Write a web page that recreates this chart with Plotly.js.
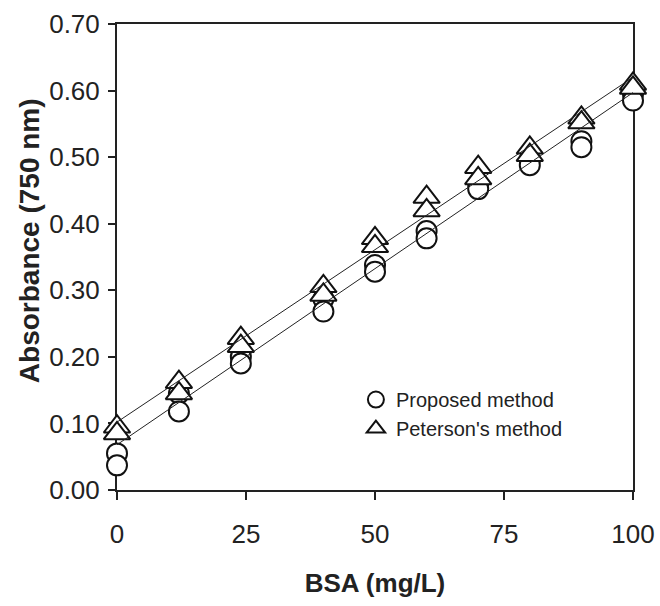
<!DOCTYPE html>
<html>
<head>
<meta charset="utf-8">
<script src="https://cdn.plot.ly/plotly-3.0.1.min.js"></script>
<style>html,body{margin:0;padding:0;background:#fff;}</style>
</head>
<body>
<div id="chart" style="width:660px;height:606px;"></div>
<script>
// BSA concentrations (mg/L)
var bsa = [0, 12, 24, 40, 50, 60, 70, 80, 90, 100];
// Proposed method, two replicates (absorbance at 750 nm)
var proposedRep1 = [0.055, 0.145, 0.200, 0.287, 0.338, 0.389, 0.460, 0.496, 0.524, 0.595];
var proposedRep2 = [0.037, 0.118, 0.190, 0.268, 0.328, 0.378, 0.452, 0.488, 0.515, 0.585];
// Peterson's method, two replicates
var petersonRep1 = [0.095, 0.162, 0.228, 0.306, 0.378, 0.440, 0.485, 0.514, 0.559, 0.610];
var petersonRep2 = [0.085, 0.145, 0.216, 0.293, 0.366, 0.420, 0.468, 0.503, 0.552, 0.604];
// Fitted calibration lines (end points)
var fitX = [0, 100];
var proposedFit = [0.068, 0.597];
var petersonFit = [0.102, 0.620];
var yTicks = [0, 0.1, 0.2, 0.3, 0.4, 0.5, 0.6, 0.7];
var xTicks = [0, 25, 50, 75, 100];

var sans = 'Liberation Sans, Arial, Helvetica, sans-serif';

var traces = [
  {
    x: bsa.concat(bsa), y: proposedRep1.concat(proposedRep2),
    type: 'scatter', mode: 'markers', name: 'Proposed method',
    cliponaxis: false,
    marker: {symbol: 'circle', size: 20, color: '#ffffff', line: {color: '#111', width: 2}}
  },
  {
    x: bsa.concat(bsa), y: petersonRep1.concat(petersonRep2),
    type: 'scatter', mode: 'markers', name: "Peterson's method",
    cliponaxis: false,
    marker: {symbol: 'triangle-up', size: 23, color: '#ffffff', line: {color: '#111', width: 2}}
  },
  {
    x: fitX, y: proposedFit, type: 'scatter', mode: 'lines', showlegend: false,
    line: {color: '#222', width: 1}, hoverinfo: 'skip'
  },
  {
    x: fitX, y: petersonFit, type: 'scatter', mode: 'lines', showlegend: false,
    line: {color: '#222', width: 1}, hoverinfo: 'skip'
  }
];

var layout = {
  width: 660, height: 606,
  margin: {l: 117, r: 27, t: 24, b: 116, pad: 0},
  paper_bgcolor: '#fff', plot_bgcolor: '#fff',
  font: {family: sans, color: '#222'},
  showlegend: true,
  legend: {
    x: 0.463, y: 0.236, xanchor: 'left', yanchor: 'top',
    bgcolor: 'rgba(0,0,0,0)', borderwidth: 0,
    font: {family: sans, size: 20, color: '#222'},
    itemwidth: 30, tracegroupgap: 0
  },
  xaxis: {
    range: [0, 100], tickvals: xTicks, ticktext: xTicks.map(String),
    ticks: 'outside', ticklen: 8, tickwidth: 2, tickcolor: '#222',
    showline: true, linewidth: 2, linecolor: '#222', mirror: true,
    showgrid: false, zeroline: false, layer: 'below traces',
    tickfont: {family: sans, size: 26, color: '#222'},
    ticklabelstandoff: 12,
    title: {text: 'BSA (mg/L)', font: {family: sans, size: 26, weight: 'bold', color: '#222'}, standoff: 26}
  },
  yaxis: {
    range: [0, 0.7], tickvals: yTicks, tickformat: '.2f',
    ticks: 'outside', ticklen: 7, tickwidth: 2, tickcolor: '#222',
    showline: true, linewidth: 2, linecolor: '#222', mirror: true,
    showgrid: false, zeroline: false, layer: 'below traces',
    tickfont: {family: sans, size: 26, color: '#222'},
    ticklabelstandoff: 3
  },
  annotations: [{
    text: 'Absorbance (750 nm)', textangle: -90,
    xref: 'paper', yref: 'paper', x: -0.1705, y: 0.534,
    xanchor: 'center', yanchor: 'middle', showarrow: false,
    font: {family: sans, size: 28, weight: 'bold', color: '#222'}
  }]
};

Plotly.newPlot('chart', traces, layout, {displayModeBar: false, staticPlot: true});
</script>
</body>
</html>
